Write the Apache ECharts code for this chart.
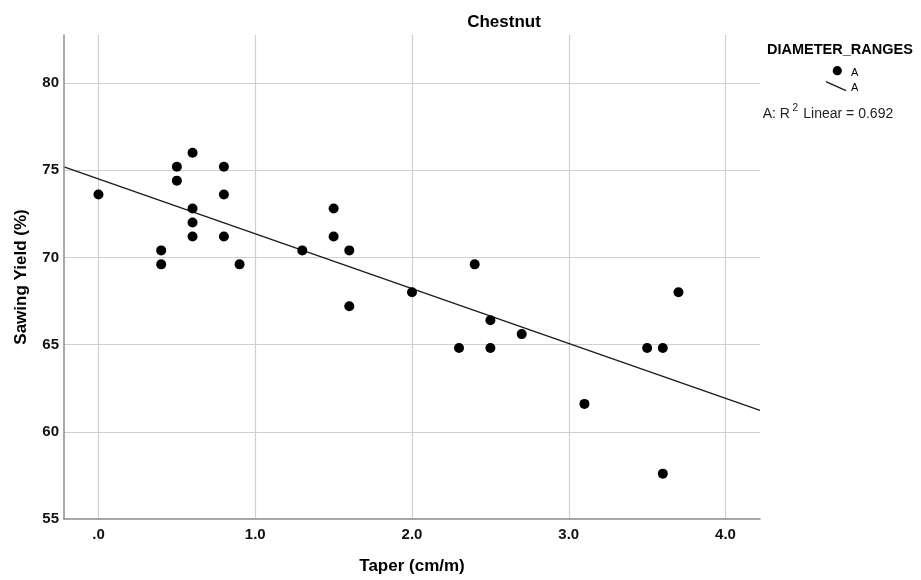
<!DOCTYPE html>
<html><head><meta charset="utf-8">
<script src="https://cdn.jsdelivr.net/npm/echarts@6/dist/echarts.min.js"></script>
<style>html,body{margin:0;padding:0;background:#fff}#c{width:921px;height:580px}</style>
</head><body><div id="c"></div>
<script>
const taper = [0,0.4,0.4,0.5,0.5,0.6,0.6,0.6,0.6,0.8,0.8,0.8,0.9,1.3,1.5,1.5,1.6,1.6,2.0,2.3,2.4,2.5,2.5,2.7,3.1,3.5,3.6,3.6,3.7];
const sawingYield = [73.6,70.4,69.6,75.2,74.4,76.0,72.8,72.0,71.2,75.2,73.6,71.2,69.6,70.4,72.8,71.2,70.4,67.2,68.0,64.8,69.6,66.4,64.8,65.6,61.6,64.8,64.8,57.6,68.0];
const fitX = [-0.22, 4.22];
const fitY = [75.19, 61.23];
const xTickValues = [0,1,2,3,4];
const xTickLabels = ['.0','1.0','2.0','3.0','4.0'];
const yTickValues = [55,60,65,70,75,80];
const yTickLabels = ['55','60','65','70','75','80'];

const FF = '"Liberation Sans", Arial, sans-serif';
function pick(vals, labels) {
  return function (v) {
    for (let i = 0; i < vals.length; i++) if (Math.abs(v - vals[i]) < 1e-6) return labels[i];
    return '';
  };
}
const gridColor = '#d0d0d0';
const axisColor = '#8c8c8c';

const chart = echarts.init(document.getElementById('c'));
chart.setOption({
  animation: false,
  backgroundColor: '#ffffff',
  grid: { left: 64, right: 161, top: 35, bottom: 56, containLabel: false },
  xAxis: {
    type: 'value', min: -0.22, max: 4.22, interval: 0.02, z: 5,
    axisLine: { show: true, onZero: false, lineStyle: { color: axisColor, width: 1.5 } },
    axisTick: { show: false }, splitLine: { show: false },
    axisLabel: { formatter: pick(xTickValues, xTickLabels), fontSize: 15, fontWeight: 'bold', color: '#111', margin: 8, fontFamily: FF },
    name: 'Taper (cm/m)', nameLocation: 'middle', nameGap: 39,
    nameTextStyle: { fontSize: 17, fontWeight: 'bold', color: '#000', fontFamily: FF }
  },
  yAxis: {
    type: 'value', min: 55, max: 82.75, interval: 5, z: 5,
    axisLine: { show: true, onZero: false, lineStyle: { color: axisColor, width: 1.5 } },
    axisTick: { show: false }, splitLine: { show: false },
    axisLabel: { formatter: pick(yTickValues, yTickLabels), fontSize: 15, fontWeight: 'bold', color: '#111', margin: 5, padding: [5,0,0,0], fontFamily: FF },
    name: 'Sawing Yield (%)', nameLocation: 'middle', nameGap: 34,
    nameTextStyle: { fontSize: 17, fontWeight: 'bold', color: '#000', fontFamily: FF }
  },
  series: [
    {
      type: 'line', data: [], z: 0, silent: true,
      markLine: {
        z: 0, silent: true, symbol: ['none','none'], label: { show: false },
        lineStyle: { color: gridColor, width: 1.2, type: 'solid' },
        emphasis: { disabled: true },
        data: xTickValues.map(v => ({ xAxis: v })).concat(yTickValues.filter(v => v > 55).map(v => ({ yAxis: v })))
      }
    },
    {
      type: 'line', data: fitX.map((x, i) => [x, fitY[i]]), showSymbol: false, z: 2, silent: true,
      lineStyle: { color: '#1a1a1a', width: 1.3 }
    },
    {
      type: 'scatter', data: taper.map((x, i) => [x, sawingYield[i]]), symbolSize: 10, z: 3,
      itemStyle: { color: '#000', opacity: 1 }
    }
  ],
  graphic: [
    { type: 'text', x: 504, y: 22.3, style: { text: 'Chestnut', font: 'bold 17px ' + FF, fill: '#000', align: 'center', textAlign: 'center', verticalAlign: 'middle', textVerticalAlign: 'middle' } },
    { type: 'text', x: 767, y: 49.7, style: { text: 'DIAMETER_RANGES', font: 'bold 14.5px ' + FF, fill: '#000', align: 'left', textAlign: 'left', verticalAlign: 'middle', textVerticalAlign: 'middle' } },
    { type: 'circle', shape: { cx: 837.3, cy: 70.7, r: 4.6 }, style: { fill: '#000' } },
    { type: 'text', x: 851, y: 72.5, style: { text: 'A', font: '11px ' + FF, fill: '#000', align: 'left', textAlign: 'left', verticalAlign: 'middle', textVerticalAlign: 'middle' } },
    { type: 'line', shape: { x1: 826, y1: 81.7, x2: 846, y2: 90.7 }, style: { stroke: '#1a1a1a', lineWidth: 1.3 } },
    { type: 'text', x: 851, y: 88, style: { text: 'A', font: '11px ' + FF, fill: '#000', align: 'left', textAlign: 'left', verticalAlign: 'middle', textVerticalAlign: 'middle' } },
    { type: 'text', x: 762.7, y: 114.3, style: { text: 'A: R', font: '14px ' + FF, fill: '#222', align: 'left', textAlign: 'left', verticalAlign: 'middle', textVerticalAlign: 'middle' } },
    { type: 'text', x: 792.5, y: 108, style: { text: '2', font: '10px ' + FF, fill: '#222', align: 'left', textAlign: 'left', verticalAlign: 'middle', textVerticalAlign: 'middle' } },
    { type: 'text', x: 803.3, y: 114.3, style: { text: 'Linear = 0.692', font: '14px ' + FF, fill: '#222', align: 'left', textAlign: 'left', verticalAlign: 'middle', textVerticalAlign: 'middle' } }
  ]
});
</script></body></html>
